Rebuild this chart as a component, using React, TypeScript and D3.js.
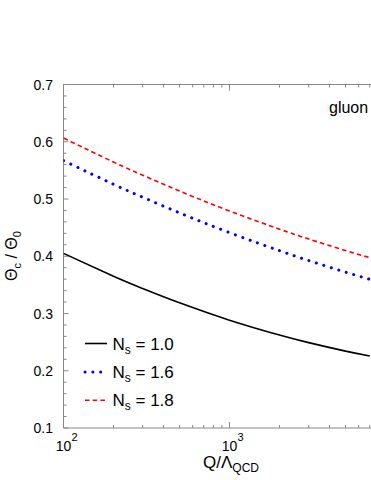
import React from "react";
import * as d3 from "d3";

const qValues = [100, 200, 300, 500, 1000, 2000, 3000, 5000, 7000];
const ns10 = [0.405, 0.365, 0.3436, 0.3186, 0.2884, 0.2624, 0.2491, 0.2343, 0.2259];
const ns16 = [0.567, 0.5258, 0.5031, 0.4758, 0.4413, 0.4097, 0.3925, 0.3722, 0.3597];
const ns18 = [0.6065, 0.5646, 0.5416, 0.5139, 0.4791, 0.4473, 0.4301, 0.4099, 0.3975];
const seriesLabels = ["1.0", "1.6", "1.8"];
const yTicks = [0.1, 0.2, 0.3, 0.4, 0.5, 0.6, 0.7];
const xMajor = [100, 1000];

const FONT = "'Liberation Sans', Arial, Helvetica, sans-serif";
const AX = "#888";

export default function App() {
  const W = 371, H = 480;
  const left = 63.5, top = 84.5, bottom = 428;
  const x = d3.scaleLog().domain([100, 7500]).range([left, left + 166 * Math.log10(75)]);
  const y = d3.scaleLinear().domain([0.1, 0.7]).range([bottom, top]);
  const right = x(7500);

  const xMinor: number[] = [];
  for (const dec of [100, 1000]) for (let k = 2; k <= 9; k++) if (dec * k <= 7500) xMinor.push(dec * k);
  const yMinor: number[] = [];
  for (let v = 0.12; v < 0.7; v += 0.02) {
    const r = Math.round(v * 100) / 100;
    if (Math.round(r * 100) % 10 !== 0) yMinor.push(r);
  }

  const line = d3.line<[number, number]>().x(d => x(d[0])).y(d => y(d[1])).curve(d3.curveNatural);
  const series = [
    { vals: ns10, color: "#000", dash: undefined as string | undefined, width: 1.6, cap: "butt" },
    { vals: ns16, color: "#0000ff", dash: "0.1 7.7", width: 3, cap: "round" },
    { vals: ns18, color: "#ff0000", dash: "4.5 3.2", width: 1.6, cap: "butt" },
  ];

  return (
    <svg width={W} height={H} style={{ position: "absolute", left: 0, top: 0, background: "#fff" }} fontFamily={FONT}>
      <rect x={0} y={0} width={W} height={H} fill="#fff" />
      <defs>
        <clipPath id="plot">
          <rect x={left} y={top} width={right - left} height={bottom - top} />
        </clipPath>
      </defs>
      {/* frame */}
      <line x1={left} x2={left} y1={top} y2={bottom} stroke={AX} strokeWidth={1} />
      <line x1={left} x2={right} y1={bottom} y2={bottom} stroke={AX} strokeWidth={1} />
      <line x1={left} x2={right} y1={top} y2={top} stroke={AX} strokeWidth={1} />
      {/* y ticks */}
      {yTicks.map(t => (
        <g key={"yt" + t}>
          <line x1={left} x2={left + 5} y1={y(t)} y2={y(t)} stroke={AX} />
          <text x={53} y={y(t)} dy="0.36em" textAnchor="end" fontSize={14} fill="#000">{t.toFixed(1)}</text>
        </g>
      ))}
      {yMinor.map(t => (
        <line key={"ym" + t} x1={left} x2={left + 3} y1={y(t)} y2={y(t)} stroke={AX} />
      ))}
      {/* x ticks */}
      {xMajor.map(t => (
        <g key={"xt" + t}>
          <line x1={x(t)} x2={x(t)} y1={bottom} y2={bottom - 6} stroke={AX} />
          <line x1={x(t)} x2={x(t)} y1={top} y2={top + 6} stroke={AX} />
          <text x={x(t)} y={451} textAnchor="middle" fontSize={14} fill="#000">10</text>
          <text x={x(t) + 8} y={441} textAnchor="start" fontSize={11} fill="#000">{Math.round(Math.log10(t))}</text>
        </g>
      ))}
      {xMinor.map(t => (
        <g key={"xm" + t}>
          <line x1={x(t)} x2={x(t)} y1={bottom} y2={bottom - 3} stroke={AX} />
          <line x1={x(t)} x2={x(t)} y1={top} y2={top + 3} stroke={AX} />
        </g>
      ))}
      {/* curves */}
      <g clipPath="url(#plot)">
        {series.map((s, i) => (
          <path key={"s" + i}
            d={line(qValues.map((q, j) => [q, s.vals[j]] as [number, number])) || ""}
            fill="none" stroke={s.color} strokeWidth={s.width} strokeDasharray={s.dash}
            strokeLinecap={s.cap as any} />
        ))}
      </g>
      {/* label gluon */}
      <text x={329} y={113} fontSize={16} fill="#000">gluon</text>
      {/* legend */}
      {series.map((s, i) => {
        const yy = 343.5 + i * 28.4;
        return (
          <g key={"lg" + i}>
            <line x1={85} x2={107} y1={yy} y2={yy} stroke={s.color} strokeWidth={s.width}
              strokeDasharray={s.dash} strokeLinecap={s.cap as any} />
            <text x={112.5} y={yy + 6} fontSize={17} fill="#000">
              N<tspan fontSize={12} dy={4}>s</tspan><tspan dy={-4}>{" = " + seriesLabels[i]}</tspan>
            </text>
          </g>
        );
      })}
      {/* axis titles */}
      <text x={203} y={468} fontSize={17} fill="#000">
        Q/Λ<tspan fontSize={12} dy={4}>QCD</tspan>
      </text>
      <text transform="translate(17,256) rotate(-90)" textAnchor="middle" fontSize={16} fill="#000">
        Θ<tspan fontSize={11} dy={4}>c</tspan><tspan dy={-4}>{" / Θ"}</tspan><tspan fontSize={11} dy={4}>0</tspan>
      </text>
    </svg>
  );
}
